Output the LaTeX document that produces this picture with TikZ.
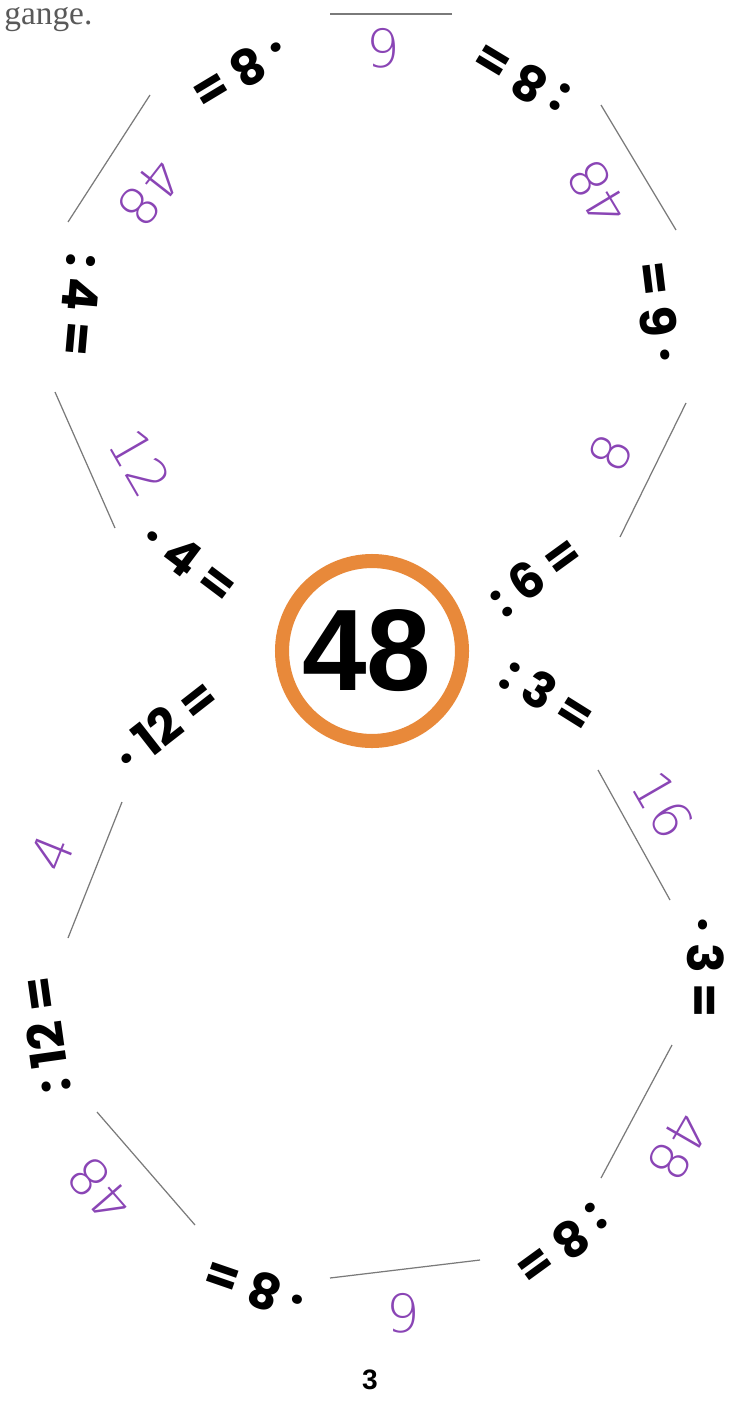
\documentclass[tikz,border=0pt]{standalone}
\usepackage{fontspec}
\setmainfont{Liberation Serif}
\newfontfamily\opfont{Poppins}
\newfontfamily\hubfont{Liberation Sans}
\newfontfamily\handfont{DejaVuSans-ExtraLight.ttf}
\usepackage{tikz}
\definecolor{ring}{HTML}{E8893A}
\definecolor{ink}{HTML}{8A45B5}
\definecolor{rule}{HTML}{7A7A7A}
\newcommand\gap{\hspace{0.22em}}

\begin{document}
\begin{tikzpicture}[
  x=0.02cm, y=-0.02cm,
  task/.style={inner sep=0pt, font=\opfont\bfseries\fontsize{28}{28}\selectfont},
  answer/.style={inner sep=0pt, text=ink, font=\handfont\fontsize{30}{30}\selectfont},
  blank/.style={draw=rule, line width=0.7pt},
  hub/.style={circle, draw=ring, line width=8pt, minimum size=3.6cm,
    inner sep=0pt, font=\hubfont\bfseries\fontsize{66}{66}\selectfont}
]
\useasboundingbox (0,0) rectangle (738,1409);
% page bits
\node[anchor=base west, inner sep=0pt, text=black!65,
  font=\fontsize{19}{19}\selectfont] (prev) at (4,25) {gange.};
\node[inner sep=0pt, font=\hubfont\bfseries\fontsize{16}{16}\selectfont]
  (pageno) at (370,1380) {3};
% centre
\node[hub] (hub) at (372,651) {\hspace*{-6pt}48};
% upper loop
\node[task, rotate=36] (qsix) at (535,575) {:\gap6\gap=};
\coordinate (b1s) at (620,537); \coordinate (b1e) at (686,403);
\draw[blank] (b1s) -- (b1e);
\node[answer, rotate=64] (asix) at (611,453) {8};
\node[task, rotate=97] (psix) at (657,312) {·\gap6\gap=};
\coordinate (b2s) at (676,230); \coordinate (b2e) at (601,105);
\draw[blank] (b2s) -- (b2e);
\node[answer, rotate=121] (bsix) at (598,193) {48};
\node[task, rotate=149] (qeight) at (521,78) {:\gap8\gap=};
\coordinate (b3s) at (452,14); \coordinate (b3e) at (330,14);
\draw[blank] (b3s) -- (b3e);
\node[answer] (aeight) at (383,48) {9};
\node[task, rotate=211] (peight) at (240,72) {·\gap8\gap=};
\coordinate (b4s) at (150,95); \coordinate (b4e) at (68,222);
\draw[blank] (b4s) -- (b4e);
\node[answer, rotate=232] (beight) at (150,193) {48};
\node[task, rotate=265] (qfour) at (80,305) {:\gap4\gap=};
\coordinate (b5s) at (55,392); \coordinate (b5e) at (115,528);
\draw[blank] (b5s) -- (b5e);
\node[answer, rotate=300] (afour) at (140,463) {12};
\node[task, rotate=323] (pfour) at (190,562) {·\gap4\gap=};
% lower loop
\node[task, rotate=328] (qthree) at (548,695) {:\gap3\gap=};
\coordinate (b6s) at (598,770); \coordinate (b6e) at (670,900);
\draw[blank] (b6s) -- (b6e);
\node[answer, rotate=300] (athree) at (663,805) {16};
\node[task, rotate=270] (pthree) at (706,968) {·\gap3\gap=};
\coordinate (b7s) at (672,1045); \coordinate (b7e) at (601,1178);
\draw[blank] (b7s) -- (b7e);
\node[answer, rotate=240] (bthree) at (678,1147) {48};
\node[task, rotate=216] (qeightb) at (563,1245) {:\gap8\gap=};
\coordinate (b8s) at (480,1260); \coordinate (b8e) at (330,1278);
\draw[blank] (b8s) -- (b8e);
\node[answer] (aeightb) at (403,1313) {9};
\node[task, rotate=161] (peightb) at (255,1288) {·\gap8\gap=};
\coordinate (b9s) at (195,1225); \coordinate (b9e) at (97,1112);
\draw[blank] (b9s) -- (b9e);
\node[answer, rotate=131] (beightb) at (100,1190) {48};
\node[task, rotate=98] (qtwelve) at (45,1035) {:\gap12\gap=};
\coordinate (b10s) at (68,938); \coordinate (b10e) at (122,802);
\draw[blank] (b10s) -- (b10e);
\node[answer, rotate=68] (atwelve) at (52,853) {4};
\node[task, rotate=38] (ptwelve) at (165,725) {·\gap12\gap=};
\end{tikzpicture}
\end{document}
